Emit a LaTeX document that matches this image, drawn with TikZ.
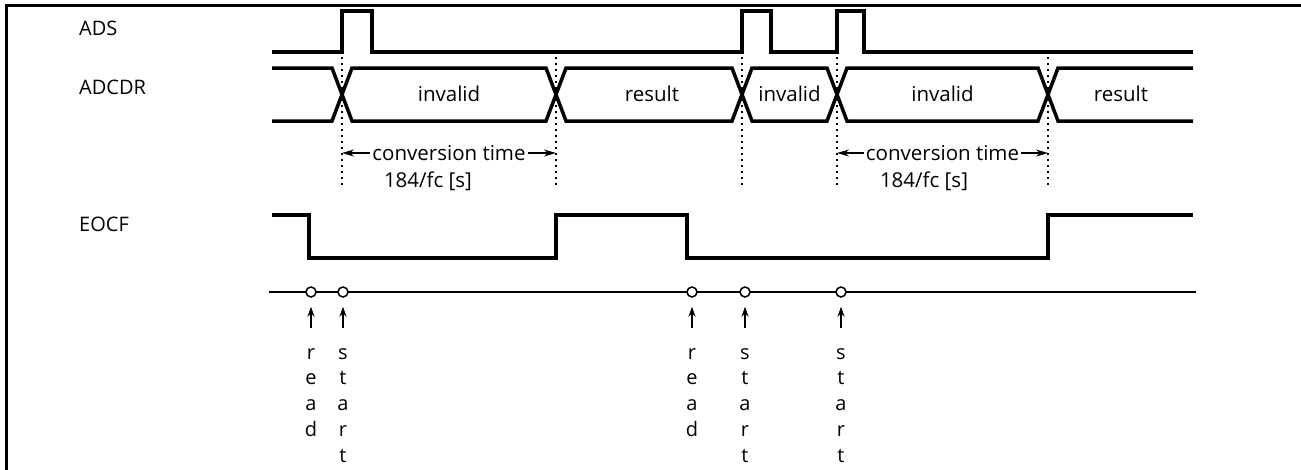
\documentclass[tikz,border=0pt]{standalone}
\usepackage{fontspec}
\setmainfont{Open Sans}
\usetikzlibrary{arrows.meta}
\begin{document}
\begin{tikzpicture}[x=1pt,y=-1pt,
  sig/.style={line width=3.5pt, line join=miter},
  dotline/.style={line width=2pt, dash pattern=on 2pt off 4pt},
  lbl/.style={font=\fontsize{20}{24}\selectfont, anchor=base west, inner sep=0pt},
  txt/.style={font=\fontsize{20.5}{24}\selectfont, inner sep=2pt},
  lett/.style={font=\fontsize{20}{24}\selectfont, anchor=base, inner sep=0pt},
  evt/.style={circle, draw, line width=1.5pt, fill=white, minimum size=10pt, inner sep=0pt},
  uparr/.style={-{Stealth[length=10pt,width=7pt]}, line width=1.7pt},
  dimarr/.style={-{Stealth[length=12pt,width=7pt]}, line width=1.6pt}]
\useasboundingbox (0,0) rectangle (1301,469);
\fill[white] (0,0) rectangle (1301,469);
% frame
\draw[line width=2.8pt] (6.5,472) -- (6.5,5.5) -- (1304,5.5);
% labels
\node[lbl] (lads) at (79,35) {ADS};
\node[lbl] (ladcdr) at (79,94) {ADCDR};
\node[lbl] (leocf) at (79,231) {EOCF};
% ADS
\draw[sig] (272,52) -- (342,52) -- (342,11) -- (372,11) -- (372,52) -- (742,52) -- (742,11) -- (771,11) -- (771,52) -- (837,52) -- (837,11) -- (864,11) -- (864,52) -- (1193,52);
% ADCDR
\draw[sig] (272,68) -- (332,68) -- (352,121) -- (546,121) -- (566,68) -- (732,68) -- (752,121) -- (827,121) -- (847,68) -- (1038,68) -- (1058,121) -- (1193,121);
\draw[sig] (272,121) -- (332,121) -- (352,68) -- (546,68) -- (566,121) -- (732,121) -- (752,68) -- (827,68) -- (847,121) -- (1038,121) -- (1058,68) -- (1193,68);
\node[txt] (v1) at (449,94) {invalid};
\node[txt] (r1) at (652,94) {result};
\node[txt] (v2) at (789.5,94) {invalid};
\node[txt] (v3) at (942.5,94) {invalid};
\node[txt] (r2) at (1121,94) {result};
% dotted guides
\foreach \x/\n in {342/a,556/b,742/c,837/d,1048/e}{
  \coordinate (top\n) at (\x,57);
  \coordinate (bot\n) at (\x,186);
  \coordinate (mid\n) at (\x,153);
  \draw[dotline] (top\n) -- (bot\n);
}
% conversion time
\node[txt] (ct1) at (449,153) {conversion time};
\draw[dimarr] (ct1.west) -- (mida);
\draw[dimarr] (ct1.east) -- (midb);
\node[txt] (f1) at (428,181) {184/fc [s]};
\node[txt] (ct2) at (942.5,153) {conversion time};
\draw[dimarr] (ct2.west) -- (midd);
\draw[dimarr] (ct2.east) -- (mide);
\node[txt] (f2) at (924,181) {184/fc [s]};
% EOCF
\draw[sig] (272,215) -- (309,215) -- (309,258) -- (556,258) -- (556,215) -- (687,215) -- (687,258) -- (1048,258) -- (1048,215) -- (1193,215);
% event timeline
\coordinate (tl0) at (269,292);
\coordinate (tl1) at (1196,292);
\draw[line width=1.8pt] (tl0) -- (tl1);
\foreach \x/\n/\w in {311/1/{r,e,a,d},343/2/{s,t,a,r,t},692/3/{r,e,a,d},745/4/{s,t,a,r,t},841/5/{s,t,a,r,t}}{
  \node[evt] (e\n) at (\x,292) {};
  \coordinate (ab\n) at (\x,328);
  \draw[uparr] (ab\n) -- ([yshift=-9pt]e\n.south);
  \foreach \ch [count=\i] in \w {
    \node[lett] (w\n-\i) at (\x,{359+25.8*(\i-1)}) {\ch};
  }
}
\end{tikzpicture}
\end{document}
